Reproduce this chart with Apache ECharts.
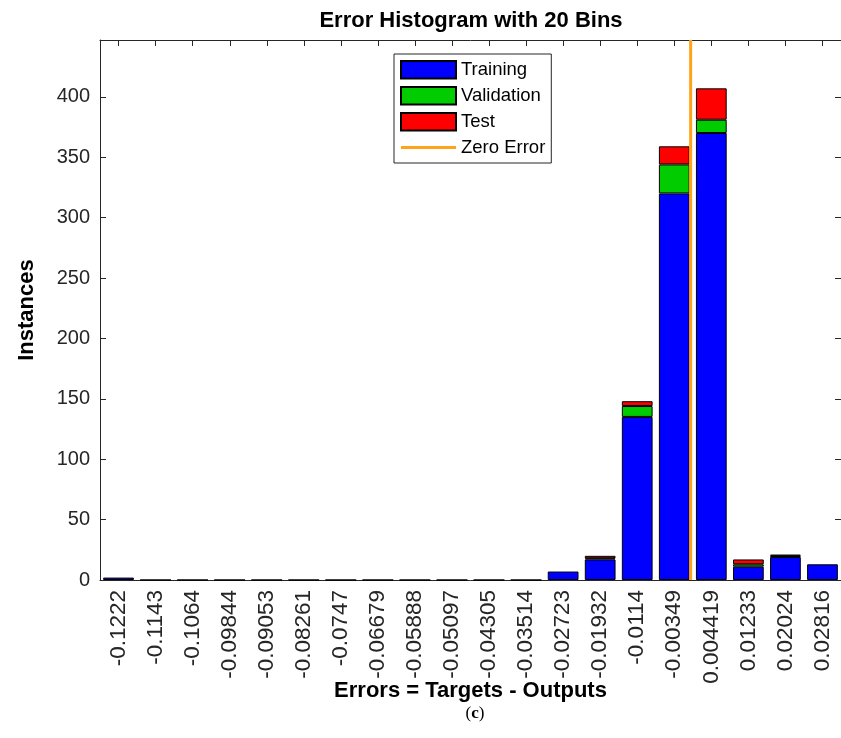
<!DOCTYPE html>
<html><head><meta charset="utf-8">
<script src="https://cdn.jsdelivr.net/npm/echarts@6/dist/echarts.min.js"></script>
<style>html,body{margin:0;padding:0;background:#fff}#c{width:841px;height:738px}</style>
</head><body><div id="c"></div>
<script>
const binLabels = ['-0.1222','-0.1143','-0.1064','-0.09844','-0.09053','-0.08261','-0.0747','-0.06679','-0.05888','-0.05097','-0.04305','-0.03514','-0.02723','-0.01932','-0.0114','-0.00349','0.004419','0.01233','0.02024','0.02816'];
const training   = [2, 0, 0, 0, 0, 0, 0, 0, 0, 0, 0, 0, 7, 17, 135, 320, 370, 11, 19, 13];
const validation = [null, null, null, null, null, null, null, null, null, null, null, null, null, 1, 9, 24, 11, 2, 1, null];
const test       = [null, null, null, null, null, null, null, null, null, null, null, null, null, 2, 4, 15, 26, 4, 1, null];
const yTicks = [0, 50, 100, 150, 200, 250, 300, 350, 400];
const yMax = 447;
const zeroError = 0;

const centers = binLabels.map(Number);
const halfBin = (centers[centers.length - 1] - centers[0]) / (centers.length - 1) / 2;
const edgeMin = centers[0] - halfBin;
const edgeMax = centers[centers.length - 1] + halfBin;

const axisColor = '#262626';
const orange = '#FFA31A';
const font = "'Liberation Sans', Arial, sans-serif";

const chart = echarts.init(document.getElementById('c'), null, {renderer: 'canvas'});
const barStyle = (c) => ({color: c, borderColor: '#000', borderWidth: 1});
const lineAxis = {onZero: false, lineStyle: {color: axisColor, width: 1}};
chart.setOption({
  animation: false,
  textStyle: {fontFamily: font},
  title: [
    {text: 'Error Histogram with 20 Bins', left: 466, top: 5, textAlign: 'center',
     textStyle: {fontSize: 22, fontWeight: 'bold', color: '#000', fontFamily: font}},
    {text: '({b|c})', left: 470, top: 700, textAlign: 'center',
     textStyle: {fontSize: 17, fontWeight: 'normal', color: '#000', fontFamily: "'Liberation Serif', serif",
       rich: {b: {fontSize: 17, fontWeight: 'bold', fontFamily: "'Liberation Serif', serif"}}}}
  ],
  legend: {
    data: [
      {name: 'Training', icon: 'rect'},
      {name: 'Validation', icon: 'rect'},
      {name: 'Test', icon: 'rect'},
      {name: 'Zero Error', icon: 'path://M0,0 L55,0 L55,3 L0,3 Z', itemStyle: {color: orange, borderWidth: 0}}
    ],
    orient: 'vertical', left: 394, top: 54,
    padding: [6, 6, 6, 6], itemWidth: 55, itemHeight: 17.5, itemGap: 6.5,
    borderColor: axisColor, borderWidth: 1, backgroundColor: '#fff',
    selectedMode: false,
    textStyle: {fontSize: 18.5, color: '#000', fontFamily: font}
  },
  grid: {left: 100, top: 40, width: 744, height: 540, containLabel: false},
  xAxis: [
    {type: 'category', data: binLabels, position: 'bottom',
     axisLine: lineAxis,
     axisTick: {inside: true, alignWithLabel: true, interval: 0, length: 6, lineStyle: {color: axisColor}},
     axisLabel: {rotate: 90, interval: 0, fontSize: 22.5, color: axisColor, margin: 10, fontFamily: font},
     name: 'Errors = Targets - Outputs', nameLocation: 'middle', nameGap: 100, nameMoveOverlap: false,
     nameTextStyle: {fontWeight: 'bold', fontSize: 22, color: '#000', fontFamily: font}},
    {type: 'value', position: 'top', min: edgeMin, max: edgeMax,
     splitLine: {show: false},
     axisLine: Object.assign({show: true}, lineAxis),
     axisTick: {show: true, inside: true, length: 6, customValues: centers, lineStyle: {color: axisColor}},
     axisLabel: {show: false}},
    {type: 'value', show: false, min: edgeMin, max: edgeMax, axisLine: {onZero: false}}
  ],
  yAxis: [
    {type: 'value', min: 0, max: yMax, interval: 50, position: 'left',
     splitLine: {show: false},
     axisLine: Object.assign({show: true}, lineAxis),
     axisTick: {show: true, inside: true, length: 6, customValues: yTicks, lineStyle: {color: axisColor}},
     axisLabel: {fontSize: 20, color: axisColor, margin: 10, customValues: yTicks, fontFamily: font},
     name: 'Instances', nameLocation: 'middle', nameGap: 62, nameRotate: 90, nameMoveOverlap: false,
     nameTextStyle: {fontWeight: 'bold', fontSize: 22, color: '#000', fontFamily: font}},
    {type: 'value', min: 0, max: yMax, interval: 50, position: 'right',
     splitLine: {show: false},
     axisLine: Object.assign({show: true}, lineAxis),
     axisTick: {show: true, inside: true, length: 6, customValues: yTicks, lineStyle: {color: axisColor}},
     axisLabel: {show: false}}
  ],
  series: [
    {name: 'Training', type: 'bar', stack: 'h', data: training, barCategoryGap: '17%', itemStyle: barStyle('#0000FF')},
    {name: 'Validation', type: 'bar', stack: 'h', data: validation, itemStyle: barStyle('#00CC00')},
    {name: 'Test', type: 'bar', stack: 'h', data: test, itemStyle: barStyle('#FF0000')},
    {name: 'Zero Error', type: 'line', xAxisIndex: 2, yAxisIndex: 0,
     data: [[zeroError, 0], [zeroError, yMax]], symbol: 'none', showSymbol: false, z: 5,
     lineStyle: {color: orange, width: 3}, itemStyle: {color: orange}}
  ]
});
</script></body></html>
